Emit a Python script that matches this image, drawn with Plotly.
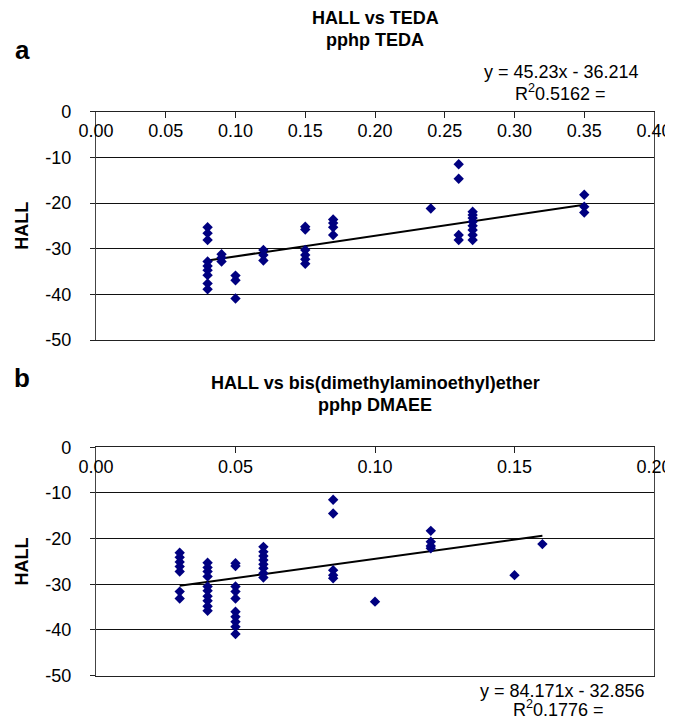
import plotly.graph_objects as go

# ---------------- data ----------------
teda_pphp = [0.08]*9 + [0.09]*3 + [0.10]*3 + [0.12]*3 + [0.15]*6 + [0.17]*4 + [0.24] + [0.26]*4 + [0.27]*8 + [0.35]*3
hall_teda = [-25.3, -26.6, -28.1, -32.8, -33.8, -34.7, -35.8, -37.6, -38.9,
             -31.2, -32.0, -32.8,
             -35.9, -36.9, -40.9,
             -30.3, -31.4, -32.6,
             -25.2, -25.8, -30.3, -31.4, -32.3, -33.3,
             -23.6, -24.4, -25.3, -27.0,
             -21.2,
             -11.5, -14.7, -27.0, -28.1,
             -21.9, -22.6, -23.3, -24.1, -25.0, -25.9, -27.0, -28.1,
             -18.2, -20.8, -22.1]

dmaee_pphp = [0.03]*7 + [0.04]*10 + [0.05]*10 + [0.06]*8 + [0.085]*5 + [0.10] + [0.12]*4 + [0.15] + [0.16]
hall_dmaee = [-23.1, -24.1, -25.1, -26.1, -27.2, -31.6, -33.1,
              -25.3, -26.3, -27.2, -28.3, -30.5, -31.4, -32.6, -33.6, -34.8, -35.8,
              -25.4, -26.0, -30.5, -31.6, -33.1, -36.0, -37.1, -38.2, -39.3, -40.9,
              -21.8, -22.9, -23.8, -24.7, -25.6, -26.5, -27.6, -28.5,
              -11.5, -14.5, -26.9, -28.0, -28.7,
              -33.8,
              -18.3, -20.7, -21.6, -22.1,
              -28.0,
              -21.2]

fit_a = (45.23, -36.214)
fit_b = (84.171, -32.856)
r2_a = "0.5162"
r2_b = "0.1776"

y_tick_vals = [0, -10, -20, -30, -40, -50]
y_tick_text = ["0", "-10", "-20", "-30", "-40", "-50"]

titles = ["HALL vs TEDA", "HALL vs bis(dimethylaminoethyl)ether"]
xtitles = ["pphp TEDA", "pphp DMAEE"]
panel_labels = ["a", "b"]

# ---------------- figure ----------------
W, H = 673, 721
OFF = 8                       # page body margin in the browser
SL, SR = 96, 654              # plot left/right on screen
ML = SL - OFF
MR = W - (SR - OFF)
PW = W - ML - MR

def px_x(s):                  # screen x -> paper x
    return (s - OFF - ML) / PW

def px_y(s):                  # screen y -> paper y
    return (H - (s - OFF)) / H

FONT = "Liberation Sans, Arial, sans-serif"
NAVY = "#000080"

fig = go.Figure()

def trend(xs, fit):
    x0, x1 = min(xs), max(xs)
    return [x0, x1], [fit[0]*x0 + fit[1], fit[0]*x1 + fit[1]]

tx, ty = trend(teda_pphp, fit_a)
fig.add_trace(go.Scatter(x=tx, y=ty, mode="lines", line=dict(color="black", width=2),
                         xaxis="x", yaxis="y", showlegend=False, hoverinfo="skip"))
fig.add_trace(go.Scatter(x=teda_pphp, y=hall_teda, mode="markers",
                         marker=dict(symbol="diamond", size=8, color=NAVY, line=dict(width=0)),
                         xaxis="x", yaxis="y", showlegend=False))

tx, ty = trend(dmaee_pphp, fit_b)
fig.add_trace(go.Scatter(x=tx, y=ty, mode="lines", line=dict(color="black", width=2),
                         xaxis="x2", yaxis="y2", showlegend=False, hoverinfo="skip"))
fig.add_trace(go.Scatter(x=dmaee_pphp, y=hall_dmaee, mode="markers",
                         marker=dict(symbol="diamond", size=8, color=NAVY, line=dict(width=0)),
                         xaxis="x2", yaxis="y2", showlegend=False))

def xaxis_cfg(rng, anchor):
    return dict(range=rng, dtick=0.05, tickformat=".2f", side="top", anchor=anchor,
                domain=[0, 1], showgrid=False, zeroline=False,
                showline=True, linecolor="#222", linewidth=1.3, mirror=True,
                ticks="inside", ticklen=6, tickcolor="#222",
                ticklabelposition="outside", ticklabelstandoff=-34,
                tickfont=dict(family=FONT, size=18, color="black"),
                automargin=False, fixedrange=True)

def yaxis_cfg(dom, anchor):
    return dict(range=[-50, 0], tickvals=y_tick_vals, ticktext=y_tick_text,
                domain=dom, anchor=anchor,
                showgrid=True, gridcolor="#111", gridwidth=1, zeroline=False,
                showline=True, linecolor="#444", linewidth=1.3, mirror=True,
                ticks="outside", ticklen=5, tickcolor="#222",
                ticklabelstandoff=15,
                tickfont=dict(family=FONT, size=18, color="black"),
                title=dict(text="HALL", font=dict(family=FONT, size=18, color="black", weight="bold"),
                           standoff=11),
                automargin=False, fixedrange=True)

fig.update_layout(
    width=W, height=H,
    margin=dict(l=ML, r=MR, t=0, b=0, autoexpand=False),
    paper_bgcolor="white", plot_bgcolor="white",
    font=dict(family=FONT, size=18, color="black"),
    xaxis=xaxis_cfg([0, 0.4], "y"),
    yaxis=yaxis_cfg([px_y(340), px_y(111.7)], "x"),
    xaxis2=xaxis_cfg([0, 0.2], "y2"),
    yaxis2=yaxis_cfg([px_y(675.6), px_y(447.3)], "x2"),
)

def note(text, sx, sy, size=18, bold=False):
    f = dict(family=FONT, size=size, color="black")
    if bold:
        f["weight"] = "bold"
    return dict(text=text, x=px_x(sx), y=px_y(sy), xref="paper", yref="paper",
                xanchor="center", yanchor="middle", showarrow=False, font=f)

ann = [
    note(panel_labels[0], 22, 50, 26, True),
    note(panel_labels[1], 22, 378, 26, True),
    note(titles[0], 375, 18, 18, True),
    note(xtitles[0], 375, 40, 18, True),
    note(titles[1], 375, 383, 18, True),
    note(xtitles[1], 375, 405, 18, True),
    note(f"y = {fit_a[0]}x - {abs(fit_a[1])}", 561, 72),
    note(f"R<sup>2</sup>{r2_a} =", 560, 93),
    note(f"y = {fit_b[0]}x - {abs(fit_b[1])}", 562, 691),
    note(f"R<sup>2</sup>{r2_b} =", 558, 708),
]
fig.update_layout(annotations=ann)

fig.write_html("out.html")
